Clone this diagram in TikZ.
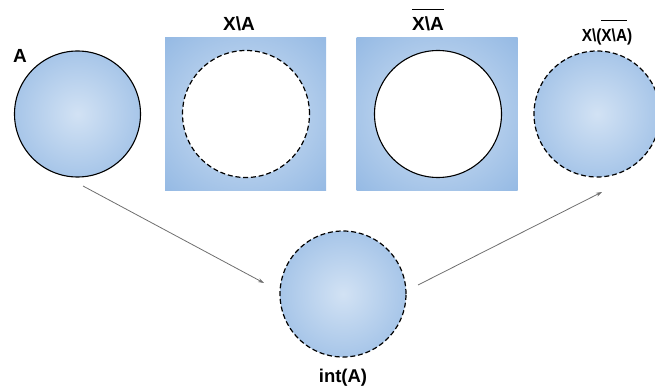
\documentclass[tikz,border=0pt]{standalone}
\usepackage{fontspec}
\usepackage{graphicx}
\setmainfont{Liberation Sans}
\usetikzlibrary{arrows.meta}
\definecolor{cz}{RGB}{210,226,244}
\definecolor{cm}{RGB}{124,169,221}
\definecolor{cd}{RGB}{94,145,207}
\definecolor{arr}{RGB}{110,110,110}
\pgfdeclareradialshading{ball}{\pgfpoint{0bp}{0bp}}{color(0bp)=(cz); color(50bp)=(cm); color(72bp)=(cd)}
\newcommand{\myover}[2]{\vbox{\hrule height 1.5pt\kern #1\hbox{#2}}}
\tikzset{
  disc/.style={circle, minimum size=126pt, inner sep=0pt, shading=ball},
  solidedge/.style={draw=black, line width=1.1pt},
  dashedge/.style={draw=black, line width=1.2pt, dash pattern=on 5pt off 2.8pt},
  hole/.style={circle, minimum size=127pt, inner sep=0pt, fill=white},
  panel/.style={rectangle, minimum width=161pt, minimum height=152pt, inner sep=0pt, shading=ball},
  lbl/.style={font=\bfseries\fontsize{19}{22}\selectfont, anchor=base, inner sep=0pt},
  conn/.style={draw=arr, line width=0.8pt, -{Stealth[length=6pt,width=4pt]}}
}
\begin{document}
\begin{tikzpicture}[x=1pt,y=-1pt]
\useasboundingbox (0,0) rectangle (655,390);
% A
\node[disc, solidedge] (A) at (77.5,114) {};
\node[lbl] (lA) at (20,63) {A};
% X\A
\node[panel] (P1) at (245.5,114) {};
\node[hole, dashedge] (H1) at (246,114) {};
\node[lbl] (l1) at (239,30.5) {X\textbackslash A};
% closure of X\A
\node[panel] (P2) at (437,114) {};
\node[hole, solidedge] (H2) at (438,114) {};
\node[lbl] (l2) at (428,31) {\myover{7pt}{X\textbackslash A}};
% X\(closure)
\node[lbl, font=\bfseries\fontsize{17.5}{20}\selectfont] (l4) at (607,42) {\scalebox{0.88}[1]{X\textbackslash(\myover{8pt}{X\textbackslash A})}};
\node[disc, dashedge] (C4) at (597,114) {};
% int(A)
\node[disc, dashedge] (I) at (343,294) {};
\node[lbl, font=\bfseries\fontsize{18.5}{21}\selectfont] (lI) at (343,382) {int(A)};
% connectors
\coordinate (s1) at (83,186);
\coordinate (e1) at (264,283);
\coordinate (s2) at (418,285);
\coordinate (e2) at (602,192);
\draw[conn] (s1) -- (e1);
\draw[conn] (s2) -- (e2);
\end{tikzpicture}
\end{document}
